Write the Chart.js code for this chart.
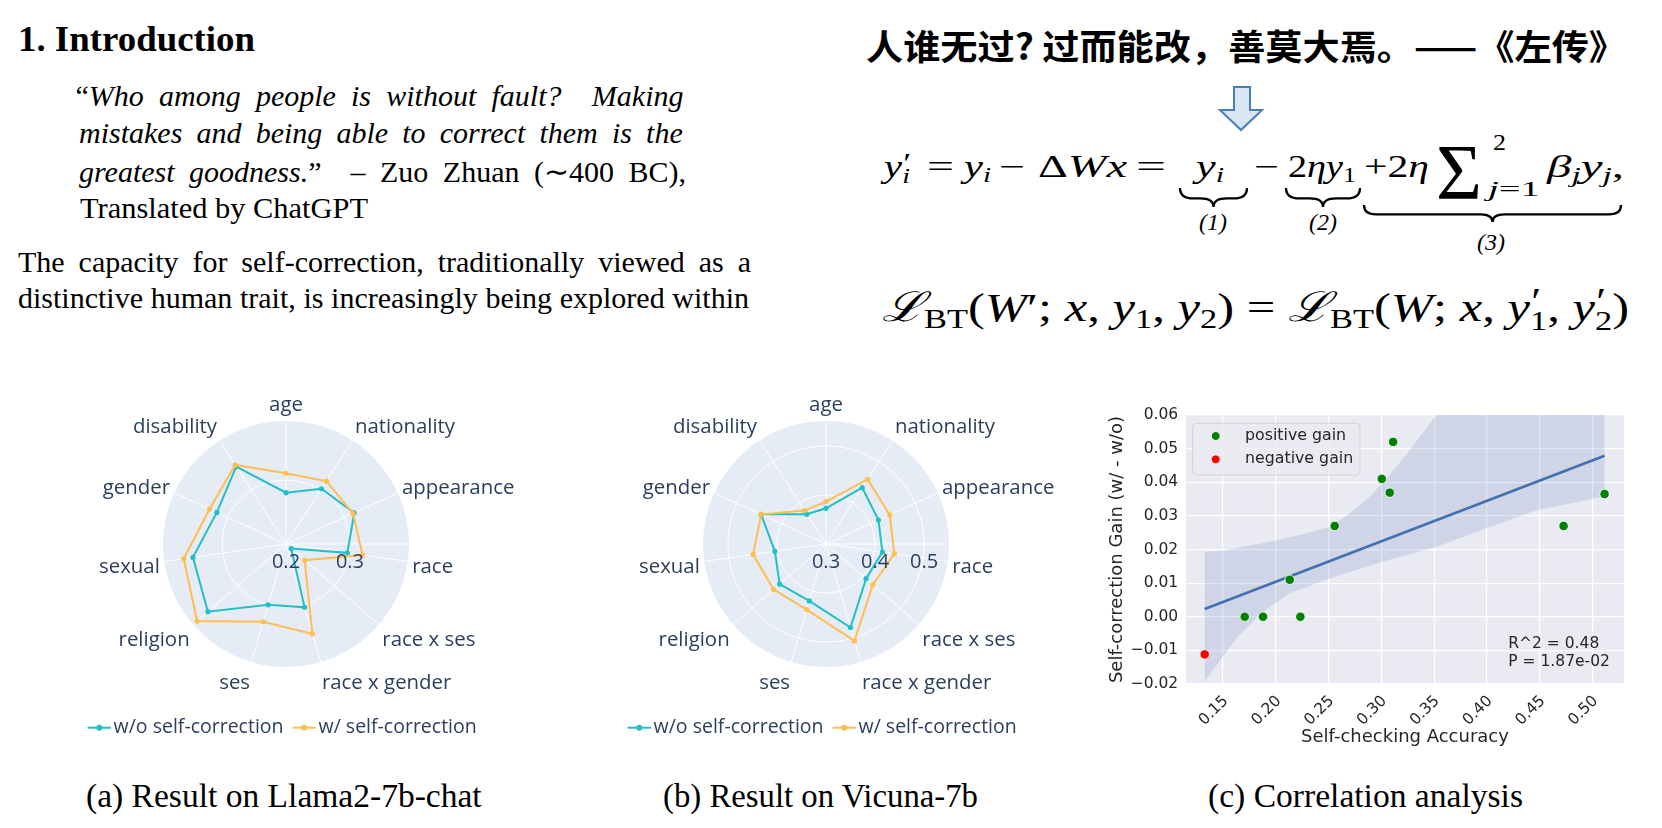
<!DOCTYPE html>
<html><head><meta charset="utf-8">
<script src="https://cdn.jsdelivr.net/npm/chart.js@4.4.1/dist/chart.umd.min.js"></script>
<style>
html,body{margin:0;padding:0;background:#fff;}
#page{position:relative;width:1662px;height:828px;overflow:hidden;background:#fff;}
.tx{position:absolute;left:0;top:0;white-space:nowrap;line-height:1.15;color:#000;font-family:'Liberation Serif','Times New Roman',serif;font-size:30px;}
.probe{display:inline-block;width:0;height:0;vertical-align:baseline;}
.cjk{font-family:'Noto Sans CJK SC',sans-serif;}
sub{font-size:0.68em;vertical-align:-0.25em;line-height:0;}
.ss{display:inline-block;position:relative;width:0.34em;height:0;}
.ss .up{position:absolute;left:0.03em;bottom:0;font-size:0.9em;line-height:1;font-style:normal;}
.ss .dn{position:absolute;left:0;top:-0.5em;font-size:0.68em;line-height:1;}
.cal{font-family:'DejaVu Serif','Liberation Serif',serif;font-style:italic;}
canvas{position:absolute;}
svg{position:absolute;left:0;top:0;}
</style></head>
<body>
<div id="page">
<svg width="1662" height="828" id="deco">
  <path d="M1234,87 L1250,87 L1250,110 L1262,110 L1241,130 L1220,110 L1234,110 Z" fill="#dae5f3" stroke="#4a7ebb" stroke-width="2" stroke-linejoin="miter"/>
</svg>
<canvas id="cA" width="500" height="370" style="left:30px;top:380px;width:500px;height:370px"></canvas>
<canvas id="cB" width="500" height="370" style="left:571px;top:380px;width:500px;height:370px"></canvas>
<canvas id="cC" width="572" height="370" style="left:1090px;top:390px;width:572px;height:370px"></canvas>
</div>
<script>
// ---------------- data ----------------
const categories = ['age', 'nationality', 'appearance', 'race', 'race x ses', 'race x gender', 'ses', 'religion', 'sexual', 'gender', 'disability'];
const seriesNames = ['w/o self-correction', 'w/ self-correction'];
const llamaWithout = [0.2802, 0.3026, 0.3172, 0.2969, 0.2107, 0.3031, 0.2990, 0.3615, 0.3469, 0.3188, 0.3438];
const llamaWith    = [0.3104, 0.3167, 0.3151, 0.3208, 0.2385, 0.3464, 0.3266, 0.3839, 0.3615, 0.3313, 0.3469];
const vicunaWithout = [0.3728, 0.4367, 0.4177, 0.4163, 0.4082, 0.4776, 0.4211, 0.4252, 0.4054, 0.4456, 0.3724];
const vicunaWith    = [0.3864, 0.4571, 0.4429, 0.4408, 0.4265, 0.5061, 0.4395, 0.4415, 0.4503, 0.4456, 0.3810];
const llamaTicks = [0.2, 0.3];
const vicunaTicks = [0.3, 0.4, 0.5];
const llamaRange = [0.2, 0.3922];
const vicunaRange = [0.3, 0.551];

const scatterNames = ['positive gain', 'negative gain'];
const accPositive  = [0.1706, 0.1879, 0.2132, 0.2233, 0.2558, 0.3004, 0.3079, 0.3111, 0.4725, 0.5113];
const gainPositive = [0.0000, 0.0000, 0.0110, 0.0000, 0.0270, 0.0410, 0.0369, 0.0520, 0.0270, 0.0365];
const accNegative  = [0.1327];
const gainNegative = [-0.0112];
const fitAcc  = [0.1327, 0.5113];
const fitGain = [0.0023, 0.0479];
const bandUpperAcc  = [0.1327, 0.1500, 0.1942, 0.2258, 0.2511, 0.2700, 0.2890, 0.3048, 0.3206, 0.3364, 0.3520, 0.5113];
const bandUpperGain = [0.0193, 0.0197, 0.0223, 0.0245, 0.0268, 0.0307, 0.0357, 0.0411, 0.0471, 0.0535, 0.0600, 0.0600];
const bandLowerAcc  = [0.1327, 0.1627, 0.1879, 0.2132, 0.2511, 0.3016, 0.3522, 0.3996, 0.4469, 0.5068, 0.5113];
const bandLowerGain = [-0.0193, -0.0064, 0.0015, 0.0070, 0.0114, 0.0164, 0.0208, 0.0263, 0.0317, 0.0355, 0.0357];
const xTicks = [0.15, 0.20, 0.25, 0.30, 0.35, 0.40, 0.45, 0.50];
const yTicks = [-0.02, -0.01, 0.00, 0.01, 0.02, 0.03, 0.04, 0.05, 0.06];
const statLines = ['R^2 = 0.48', 'P = 1.87e-02'];
const xTitle = 'Self-checking Accuracy';
const yTitle = 'Self-correction Gain (w/ - w/o)';

// ---------------- text placement ----------------
const page = document.getElementById('page');
function put(html, opts) {
  const el = document.createElement('div');
  el.className = 'tx ' + (opts.cls || '');
  el.innerHTML = html;
  if (opts.size) el.style.fontSize = opts.size + 'px';
  if (opts.weight) el.style.fontWeight = opts.weight;
  page.appendChild(el);
  const probe = document.createElement('span'); probe.className = 'probe'; el.appendChild(probe);
  const b = probe.offsetTop;
  el.style.top = (opts.baseline - b) + 'px';
  const w = el.getBoundingClientRect().width;
  let left = opts.left;
  if (opts.width) {
    if (opts.mode === 'ws') {
      const n = (el.textContent.match(/[ \u00a0]/g) || []).length;
      if (n) el.style.wordSpacing = ((opts.width - w) / n) + 'px';
    } else {
      el.style.transformOrigin = '0 0';
      el.style.transform = 'scaleX(' + (opts.width / w) + ')';
    }
  } else if (opts.center !== undefined) {
    left = opts.center - w / 2;
  }
  el.style.left = left + 'px';
  return el;
}
// left column
put('1. Introduction', {left: 18, baseline: 51, width: 237, size: 36.6, weight: 'bold'});
put('“<i>Who among people is without fault?&nbsp; Making</i>', {left: 75.5, baseline: 106, width: 608, mode: 'ws', size: 30});
put('<i>mistakes and being able to correct them is the</i>', {left: 79, baseline: 143.3, width: 603.7, mode: 'ws', size: 30});
put('<i>greatest goodness.</i>”&nbsp; – Zuo Zhuan (∼400 BC),', {left: 79, baseline: 181.7, width: 607, mode: 'ws', size: 30});
put('Translated by ChatGPT', {left: 80, baseline: 218.3, width: 288, size: 30});
put('The capacity for self-correction, traditionally viewed as a', {left: 18, baseline: 271.7, width: 733, mode: 'ws', size: 30});
put('distinctive human trait, is increasingly being explored within', {left: 18, baseline: 308.3, width: 731, mode: 'ws', size: 30});
// right column
put('人谁无过? 过而能改，善莫大焉。——《左传》', {cls: 'cjk', left: 866, baseline: 59.5, width: 760, size: 35, weight: 'bold'});
const yPrime = (sub) => '<i>y</i><span class="ss"><span class="up">′</span><span class="dn">' + sub + '</span></span>';
put(yPrime('<i>i</i>'), {left: 884, baseline: 177, width: 32, size: 31});
put('=', {left: 927, baseline: 177, width: 27, size: 31});
put('<i>y</i><sub><i>i</i></sub>', {left: 964, baseline: 177, width: 27, size: 31});
put('−', {left: 999, baseline: 177, width: 26, size: 31});
put('Δ<i>Wx</i>', {left: 1038, baseline: 177, width: 89, size: 31});
put('=', {left: 1136, baseline: 177, width: 30, size: 31});
put('<i>y</i><sub><i>i</i></sub>', {left: 1196, baseline: 177, width: 28, size: 31});
put('−', {left: 1254, baseline: 177, width: 25, size: 31});
put('2<i>ηy</i><sub>1</sub>', {left: 1288, baseline: 177, width: 68, size: 31});
put('+2<i>η</i>', {left: 1364, baseline: 177, width: 65, size: 31});
put('Σ', {left: 1436, baseline: 198.3, width: 46, size: 78});
put('2', {left: 1493, baseline: 150, width: 13, size: 24});
put('<i>j</i>=1', {left: 1488, baseline: 196, width: 52, size: 22});
put('<i>β</i><sub><i>j</i></sub><i>y</i><sub><i>j</i></sub>,', {left: 1547, baseline: 177, width: 77, size: 31});
put('<i>(1)</i>', {center: 1213, baseline: 230, size: 24});
put('<i>(2)</i>', {center: 1323, baseline: 230, size: 24});
put('<i>(3)</i>', {center: 1491, baseline: 250, size: 24});
put('<span class="cal">ℒ</span><sub>BT</sub>(<i>W</i>′; <i>x</i>, <i>y</i><sub>1</sub>, <i>y</i><sub>2</sub>) = <span class="cal">ℒ</span><sub>BT</sub>(<i>W</i>; <i>x</i>, ' + yPrime('1') + ', ' + yPrime('2') + ')',
    {left: 882, baseline: 321, width: 747, size: 41});
// captions
put('(a) Result on Llama2-7b-chat', {left: 86, baseline: 807, width: 395.7, size: 33});
put('(b) Result on Vicuna-7b', {left: 663.3, baseline: 807, width: 315, size: 33});
put('(c) Correlation analysis', {left: 1208.3, baseline: 807, width: 315, size: 33});

// underbraces
function brace(x0, x1, y0, h) {
  const xm = (x0 + x1) / 2, yh = y0 + h * 0.55, r = Math.min(h * 0.7, (x1 - x0) / 4);
  return `M${x0},${y0} Q${x0},${yh} ${x0 + r},${yh} L${xm - r},${yh} Q${xm},${yh} ${xm},${y0 + h} Q${xm},${yh} ${xm + r},${yh} L${x1 - r},${yh} Q${x1},${yh} ${x1},${y0}`;
}
const svg = document.getElementById('deco');
[[1180, 1247, 188, 19], [1286, 1360, 188, 19], [1364, 1621, 205, 17]].forEach(b => {
  const p = document.createElementNS('http://www.w3.org/2000/svg', 'path');
  p.setAttribute('d', brace(...b)); p.setAttribute('fill', 'none'); p.setAttribute('stroke', '#000'); p.setAttribute('stroke-width', '2.3');
  svg.appendChild(p);
});

// ---------------- radar charts ----------------
const TEAL = '#22bfc6', ORANGE = '#ffbd52', PLOTLY_TEXT = '#2a3f5f';
const RADAR_LABEL_FONT = '20.4px "Open Sans"';
const RADAR_TICK_FONT = '20px "Open Sans"';
const RADAR_LEGEND_FONT = '19.5px "Open Sans"';
function radarPlugin() {
  return {
    id: 'radarDecor',
    beforeDraw(chart) {
      const s = chart.scales.r, c = chart.ctx;
      c.save(); c.fillStyle = '#E5ECF6'; c.beginPath();
      c.arc(s.xCenter, s.yCenter, s.drawingArea, 0, 2 * Math.PI); c.fill(); c.restore();
    },
    beforeDatasetsDraw(chart) {
      const s = chart.scales.r, c = chart.ctx;
      c.save(); c.strokeStyle = '#ffffff'; c.lineWidth = 1; c.beginPath();
      c.moveTo(s.xCenter, s.yCenter); c.lineTo(s.xCenter + s.drawingArea, s.yCenter); c.stroke(); c.restore();
    },
    afterDraw(chart) {
      const s = chart.scales.r, c = chart.ctx, R = s.drawingArea;
      c.save();
      c.font = RADAR_LABEL_FONT; c.fillStyle = PLOTLY_TEXT; c.textBaseline = 'middle';
      chart.data.labels.forEach((lab, i) => {
        const a = s.getIndexAngle(i), sn = Math.sin(a), cs = Math.cos(a);
        const p = s.getPointPosition(i, R + 4.5);
        c.textAlign = Math.abs(sn) < 0.05 ? 'center' : (sn > 0 ? 'left' : 'right');
        c.fillText(lab, p.x, p.y + 2.9 - 14.4 * cs);
      });
      c.font = RADAR_TICK_FONT; c.textAlign = 'center';
      s.ticks.forEach(t => {
        c.fillText(t.value.toFixed(1), s.xCenter + s.getDistanceFromCenterForValue(t.value), s.yCenter + 18.7);
      });
      c.font = RADAR_LEGEND_FONT;
      let x = s.xCenter - 198.4; const y = s.yCenter + 183.7;
      chart.data.datasets.forEach(ds => {
        c.strokeStyle = ds.borderColor; c.lineWidth = 2; c.beginPath(); c.moveTo(x, y); c.lineTo(x + 23.3, y); c.stroke();
        c.fillStyle = ds.borderColor; c.beginPath(); c.arc(x + 11.7, y, 3, 0, 2 * Math.PI); c.fill();
        c.fillStyle = PLOTLY_TEXT; c.textAlign = 'left'; c.fillText(ds.label, x + 26, y);
        x += 26 + c.measureText(ds.label).width + 9;
      });
      c.restore();
    }
  };
}
function radarDataset(label, data, color, order) {
  return {label, data, borderColor: color, backgroundColor: color, pointBackgroundColor: color, pointBorderColor: color,
          borderWidth: 2, pointRadius: 2.6, pointBorderWidth: 0, pointHoverRadius: 2.6, fill: false, tension: 0, order};
}
function makeRadar(id, wo, w, ticksArr, range, padLeft, padRight) {
  return new Chart(document.getElementById(id), {
    type: 'radar',
    data: {labels: categories, datasets: [radarDataset(seriesNames[0], wo, TEAL, 1), radarDataset(seriesNames[1], w, ORANGE, 0)]},
    options: {
      responsive: false, animation: false, devicePixelRatio: 1,
      layout: {padding: {left: padLeft, right: padRight, top: 41, bottom: 83}},
      plugins: {legend: {display: false}, tooltip: {enabled: false}},
      scales: {r: {
        min: range[0], max: range[1], bounds: 'data', startAngle: 0,
        afterBuildTicks: (sc) => { sc.ticks = ticksArr.map(v => ({value: v})); },
        ticks: {display: false}, pointLabels: {display: false},
        grid: {circular: true, color: '#ffffff', lineWidth: 1},
        angleLines: {display: true, color: '#ffffff', lineWidth: 1}
      }}
    },
    plugins: [radarPlugin()]
  });
}
makeRadar('cA', llamaWithout, llamaWith, llamaTicks, llamaRange, 133, 121);
makeRadar('cB', vicunaWithout, vicunaWith, vicunaTicks, vicunaRange, 132, 122);

// ---------------- scatter / regression ----------------
const SEA_TEXT = '#262626', SEA_BG = '#EAEAF2', LINE_BLUE = '#4470b0';
const fmt = (v) => (v < -1e-9 ? '\u2212' : '') + Math.abs(v).toFixed(2);
const bandPolygon = bandUpperAcc.map((x, i) => ({x, y: bandUpperGain[i]}))
  .concat(bandLowerAcc.map((x, i) => ({x, y: bandLowerGain[i]})).reverse());
const scatterPlugin = {
  id: 'seaDecor',
  beforeDraw(chart) {
    const a = chart.chartArea, c = chart.ctx;
    c.save(); c.fillStyle = SEA_BG; c.fillRect(a.left, a.top, a.right - a.left, a.bottom - a.top); c.restore();
  },
  afterDraw(chart) {
    const a = chart.chartArea, c = chart.ctx;
    c.save();
    const bx = a.left + 6.7, by = a.top + 8.3, bw = 167.3, bh = 51.7, r = 4;
    c.beginPath();
    c.moveTo(bx + r, by); c.lineTo(bx + bw - r, by); c.quadraticCurveTo(bx + bw, by, bx + bw, by + r);
    c.lineTo(bx + bw, by + bh - r); c.quadraticCurveTo(bx + bw, by + bh, bx + bw - r, by + bh);
    c.lineTo(bx + r, by + bh); c.quadraticCurveTo(bx, by + bh, bx, by + bh - r);
    c.lineTo(bx, by + r); c.quadraticCurveTo(bx, by, bx + r, by); c.closePath();
    c.fillStyle = 'rgba(234,234,242,0.8)'; c.fill();
    c.strokeStyle = 'rgba(204,204,204,0.8)'; c.lineWidth = 1; c.stroke();
    c.font = '15.8px "DejaVu Sans"'; c.textBaseline = 'middle'; c.textAlign = 'left';
    [0, 1].forEach((k) => {
      const ds = chart.data.datasets[k];
      const y = a.top + 21 + k * 23.3;
      c.beginPath(); c.arc(a.left + 29.7, y, 4.4, 0, 2 * Math.PI);
      c.fillStyle = ds.backgroundColor; c.fill(); c.strokeStyle = '#ffffff'; c.lineWidth = 0.8; c.stroke();
      c.fillStyle = SEA_TEXT; c.fillText(ds.label, a.left + 59, y);
    });
    c.font = '15.5px "DejaVu Sans"';
    statLines.forEach((t, k) => c.fillText(t, a.right - 115.7, a.bottom - 39.7 + k * 17.4));
    c.restore();
  }
};
new Chart(document.getElementById('cC'), {
  type: 'scatter',
  data: {datasets: [
    {label: scatterNames[0], data: accPositive.map((x, i) => ({x, y: gainPositive[i]})), backgroundColor: '#008000',
     borderColor: '#ffffff', borderWidth: 0.8, pointRadius: 4.7, pointHoverRadius: 4.7, order: 0},
    {label: scatterNames[1], data: accNegative.map((x, i) => ({x, y: gainNegative[i]})), backgroundColor: '#ff0000',
     borderColor: '#ffffff', borderWidth: 0.8, pointRadius: 4.7, pointHoverRadius: 4.7, order: 0},
    {label: 'fit', data: fitAcc.map((x, i) => ({x, y: fitGain[i]})), showLine: true, borderColor: LINE_BLUE,
     borderWidth: 2.8, pointRadius: 0, pointHoverRadius: 0, fill: false, tension: 0, order: 1},
    {label: 'ci', data: bandPolygon, showLine: true, borderWidth: 0, borderColor: 'rgba(0,0,0,0)',
     backgroundColor: 'rgba(76,114,176,0.17)', pointRadius: 0, pointHoverRadius: 0, fill: 'shape', tension: 0, order: 2}
  ]},
  options: {
    responsive: false, animation: false, devicePixelRatio: 1,
    layout: {padding: {left: 0, top: 25, right: 38, bottom: 0}},
    plugins: {legend: {display: false}, tooltip: {enabled: false}},
    scales: {
      x: {type: 'linear', min: 0.115, max: 0.5297, bounds: 'data',
        afterBuildTicks: (sc) => { sc.ticks = xTicks.map(v => ({value: v})); },
        afterFit: (sc) => { sc.height = 76; },
        ticks: {callback: (v) => fmt(v), minRotation: 45, maxRotation: 45, autoSkip: false, labelOffset: 3, padding: 8,
                color: SEA_TEXT, font: {family: 'DejaVu Sans', size: 15.5}},
        grid: {color: '#ffffff', lineWidth: 1.2, drawTicks: false}, border: {display: false},
        title: {display: true, text: xTitle, color: SEA_TEXT, font: {family: 'DejaVu Sans', size: 18}, padding: {top: 0, bottom: 11.5}}},
      y: {type: 'linear', min: -0.02, max: 0.06, bounds: 'data',
        afterBuildTicks: (sc) => { sc.ticks = yTicks.map(v => ({value: v})); },
        afterFit: (sc) => { sc.width = 96; },
        ticks: {callback: (v) => fmt(v), padding: 7.8, color: SEA_TEXT, font: {family: 'DejaVu Sans', size: 15.5}},
        grid: {color: '#ffffff', lineWidth: 1.2, drawTicks: false}, border: {display: false},
        title: {display: true, text: yTitle, color: SEA_TEXT, font: {family: 'DejaVu Sans', size: 18}, padding: {top: 17, bottom: 0}}}
    }
  },
  plugins: [scatterPlugin]
});
</script>
</body></html>
